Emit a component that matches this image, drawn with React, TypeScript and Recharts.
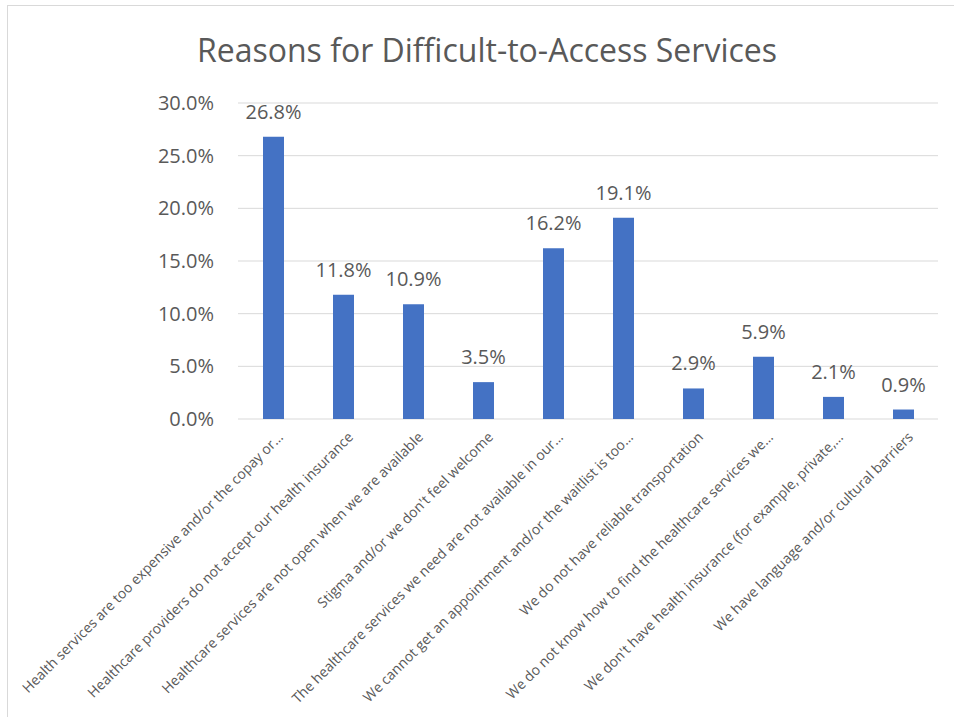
import React from "react";
import { BarChart, Bar, XAxis, YAxis, CartesianGrid, LabelList, Text } from "recharts";

const categories = [
  "Health services are too expensive and/or the copay or…",
  "Healthcare providers do not accept our health insurance",
  "Healthcare services are not open when we are available",
  "Stigma and/or we don't feel welcome",
  "The healthcare services we need are not available in our…",
  "We cannot get an appointment and/or the waitlist is too…",
  "We do not have reliable transportation",
  "We do not know how to find the healthcare services we…",
  "We don't have health insurance (for example, private,…",
  "We have language and/or cultural barriers",
];
const values = [26.8, 11.8, 10.9, 3.5, 16.2, 19.1, 2.9, 5.9, 2.1, 0.9];
const yTicks = [0, 5, 10, 15, 20, 25, 30];
const title = "Reasons for Difficult-to-Access Services";

const data = categories.map((name, i) => ({ name, value: values[i] }));
const FONT = "'Open Sans', 'Noto Sans', sans-serif";
const GREY = "#595959";

const XTick = (props: any) => {
  const { x, y, payload } = props;
  return (
    <Text
      x={x + 4}
      y={y + 4}
      angle={-45}
      textAnchor="end"
      verticalAnchor="start"
      fontSize={14}
      fontFamily={FONT}
      fill={GREY}
    >
      {payload.value}
    </Text>
  );
};

export default function App() {
  return (
    <div style={{ position: "absolute", left: 0, top: 0, width: 954, height: 717, background: "#fff" }}>
      <div
        style={{
          position: "absolute",
          left: 7,
          top: 5,
          width: 947,
          height: 712,
          borderLeft: "1px solid #d9d9d9",
          borderTop: "1px solid #d9d9d9",
        }}
      />
      <div
        style={{
          position: "absolute",
          left: 0,
          top: 28,
          width: 974,
          textAlign: "center",
          fontFamily: FONT,
          fontSize: 32,
          color: GREY,
          lineHeight: "44px",
        }}
      >
        {title}
      </div>
      <BarChart
        width={954}
        height={717}
        data={data}
        margin={{ top: 103, right: 16, bottom: 0, left: 158 }}
      >
        <CartesianGrid horizontal vertical={false} stroke="#d9d9d9" strokeWidth={1} />
        <XAxis
          dataKey="name"
          interval={0}
          axisLine={false}
          tickLine={false}
          height={298}
          tick={<XTick />}
        />
        <YAxis
          width={80}
          domain={[0, 30]}
          ticks={yTicks}
          axisLine={false}
          tickLine={false}
          tickMargin={18}
          tick={{ fontSize: 20, fontFamily: FONT, fill: GREY }}
          tickFormatter={(v: number) => `${v.toFixed(1)}%`}
        />
        <Bar dataKey="value" fill="#4472C4" barSize={21} isAnimationActive={false}>
          <LabelList
            dataKey="value"
            position="top"
            offset={18}
            fontSize={20}
            fontFamily={FONT}
            fill={GREY}
            formatter={(v: number) => `${v.toFixed(1)}%`}
          />
        </Bar>
      </BarChart>
    </div>
  );
}
